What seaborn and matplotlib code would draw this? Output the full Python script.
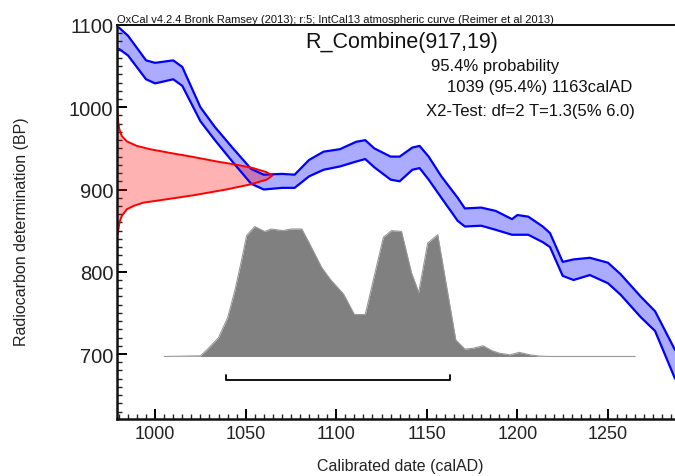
import numpy as np
import pandas as pd
import seaborn as sns
import matplotlib.pyplot as plt
from matplotlib.ticker import MultipleLocator

# calibration curve band (IntCal13), upper / lower edge in BP
curve_year = [980, 985, 995, 1000, 1010, 1015, 1025, 1033, 1043, 1053, 1060, 1070, 1077,
              1085, 1093, 1102, 1111, 1116, 1121, 1130, 1135, 1142, 1146, 1151, 1158,
              1167, 1171, 1180, 1188, 1197, 1200, 1206, 1214, 1218, 1225, 1231, 1240,
              1250, 1257, 1268, 1276, 1287]
curve_upper = [1097, 1087, 1057, 1054, 1057, 1049, 1000, 976, 950, 925, 918, 919, 918,
               936, 946, 949, 958, 960, 950, 940, 940, 951, 953, 940, 916,
               890, 877, 878, 874, 864, 869, 867, 855, 847, 812, 815, 817,
               811, 797, 770, 752, 705]
curve_lower = [1071, 1063, 1034, 1029, 1034, 1026, 983, 960, 933, 907, 900, 902, 902,
               916, 924, 928, 934, 937, 927, 912, 910, 924, 926, 912, 890,
               862, 855, 856, 851, 845, 845, 845, 836, 830, 795, 790, 796,
               786, 772, 745, 728, 670]

# radiocarbon measurement R_Combine(917,19), width in years from the left axis
rc_bp = [997, 981, 973, 965, 958.5, 953, 949, 944.5, 939.5, 934, 930, 926, 921, 917,
         912, 906, 900, 893, 887, 884, 880, 876, 868, 860, 851, 845]
rc_width = [0, 0.5, 1.1, 2.4, 5.2, 10.7, 18, 29, 42, 55, 66, 75, 82.4, 85.5,
            82.4, 73, 60, 42, 23.6, 14.3, 8.8, 5.2, 2.4, 1.1, 0.5, 0]

# calibrated probability (scaled heights above baseline)
cal_year = [1005, 1025, 1029, 1035, 1040, 1044, 1048, 1050.5, 1055, 1060.5, 1064, 1070.5,
            1075, 1081, 1086, 1092, 1097, 1104, 1110, 1116, 1126, 1130.5, 1136, 1141.5,
            1145.5, 1150.5, 1156, 1166, 1171, 1175.5, 1181, 1186, 1190, 1196, 1201,
            1207, 1212, 1218, 1265]
cal_prob = [0, 0.8, 9, 23, 47, 80, 120, 147, 158, 152, 155, 153,
            155, 155, 134, 108, 93, 76, 51, 51, 145, 153, 152, 102,
            78, 138, 148, 20, 9, 10, 13, 7, 4, 2, 5,
            2, 0.5, 0, 0]
CAL_BASE = 697

range_954 = [1039, 1163]
RANGE_BP = 668

XMIN, XMAX = 979.2, 1287
YMIN, YMAX = 621, 1100

sns.set_theme(style="white")
plt.rcParams['font.family'] = ['Liberation Sans', 'DejaVu Sans']

fig = plt.figure(figsize=(6.75, 4.77), dpi=100)
ax = fig.add_axes([0.174, 0.1195, 0.826, 0.826])

curve = pd.DataFrame({"year": curve_year, "upper": curve_upper, "lower": curve_lower})
ax.fill_between(curve["year"], curve["lower"], curve["upper"], color="#0000ff", alpha=0.33, lw=0)
sns.lineplot(data=curve, x="year", y="upper", color="#0000ff", lw=1.6, ax=ax)
sns.lineplot(data=curve, x="year", y="lower", color="#0000ff", lw=1.6, ax=ax)

rc = pd.DataFrame({"bp": rc_bp, "x": XMIN + np.array(rc_width)})
ax.fill_betweenx(rc["bp"], XMIN, rc["x"], color="#ff0000", alpha=0.3, lw=0)
sns.lineplot(data=rc, x="x", y="bp", sort=False, estimator=None, color="#ff0000", lw=1.4, ax=ax)

cal = pd.DataFrame({"year": cal_year, "top": CAL_BASE + np.array(cal_prob)})
ax.fill_between(cal["year"], CAL_BASE, cal["top"], color="#808080", lw=0)
sns.lineplot(data=cal, x="year", y="top", color="#999999", lw=0.8, ax=ax)

# 95.4% range bracket
ax.plot([range_954[0], range_954[0], range_954[1], range_954[1]],
        [RANGE_BP + 6, RANGE_BP, RANGE_BP, RANGE_BP + 6], color="black", lw=1.3)

ax.set_xlim(XMIN, XMAX)
ax.set_ylim(YMIN, YMAX)
ax.xaxis.set_major_locator(MultipleLocator(50))
ax.xaxis.set_minor_locator(MultipleLocator(5))
ax.yaxis.set_major_locator(MultipleLocator(100))
ax.yaxis.set_minor_locator(MultipleLocator(10))
ax.tick_params(which="major", direction="in", length=7, width=1.4, colors="black",
               labelcolor="#222222", bottom=True, left=True)
ax.tick_params(which="minor", direction="in", length=3.5, width=1.0, colors="#222222",
               bottom=True, left=True)
ax.tick_params(axis="x", labelsize=13, pad=4)
ax.tick_params(axis="y", labelsize=14.5, pad=3)

for side in ["left", "bottom"]:
    ax.spines[side].set_linewidth(1.8)
    ax.spines[side].set_color("#111111")
ax.spines["top"].set_linewidth(1.4)
ax.spines["top"].set_color("#111111")
ax.spines["right"].set_visible(False)

ax.set_xlabel("Calibrated date (calAD)", fontsize=11.5, color="#222222")
ax.set_ylabel("Radiocarbon determination (BP)", fontsize=11.5, color="#222222")
ax.xaxis.set_label_coords(0.507, -0.10)
ax.yaxis.set_label_coords(-0.159, 0.477)

ax.text(0.0, 1.002, "OxCal v4.2.4 Bronk Ramsey (2013); r:5; IntCal13 atmospheric curve (Reimer et al 2013)",
        transform=ax.transAxes, fontsize=8, ha="left", va="bottom", color="#111111")
ax.text(0.509, 0.957, "R_Combine(917,19)", transform=ax.transAxes, fontsize=15.5,
        ha="center", va="center", color="#111111")
ax.text(0.677, 0.898, "95.4% probability", transform=ax.transAxes, fontsize=12,
        ha="center", va="center", color="#111111")
ax.text(0.758, 0.843, "1039 (95.4%) 1163calAD", transform=ax.transAxes, fontsize=12,
        ha="center", va="center", color="#111111")
ax.text(0.741, 0.782, "X2-Test: df=2 T=1.3(5% 6.0)", transform=ax.transAxes, fontsize=12,
        ha="center", va="center", color="#111111")

fig.savefig("out.png", dpi=100)
